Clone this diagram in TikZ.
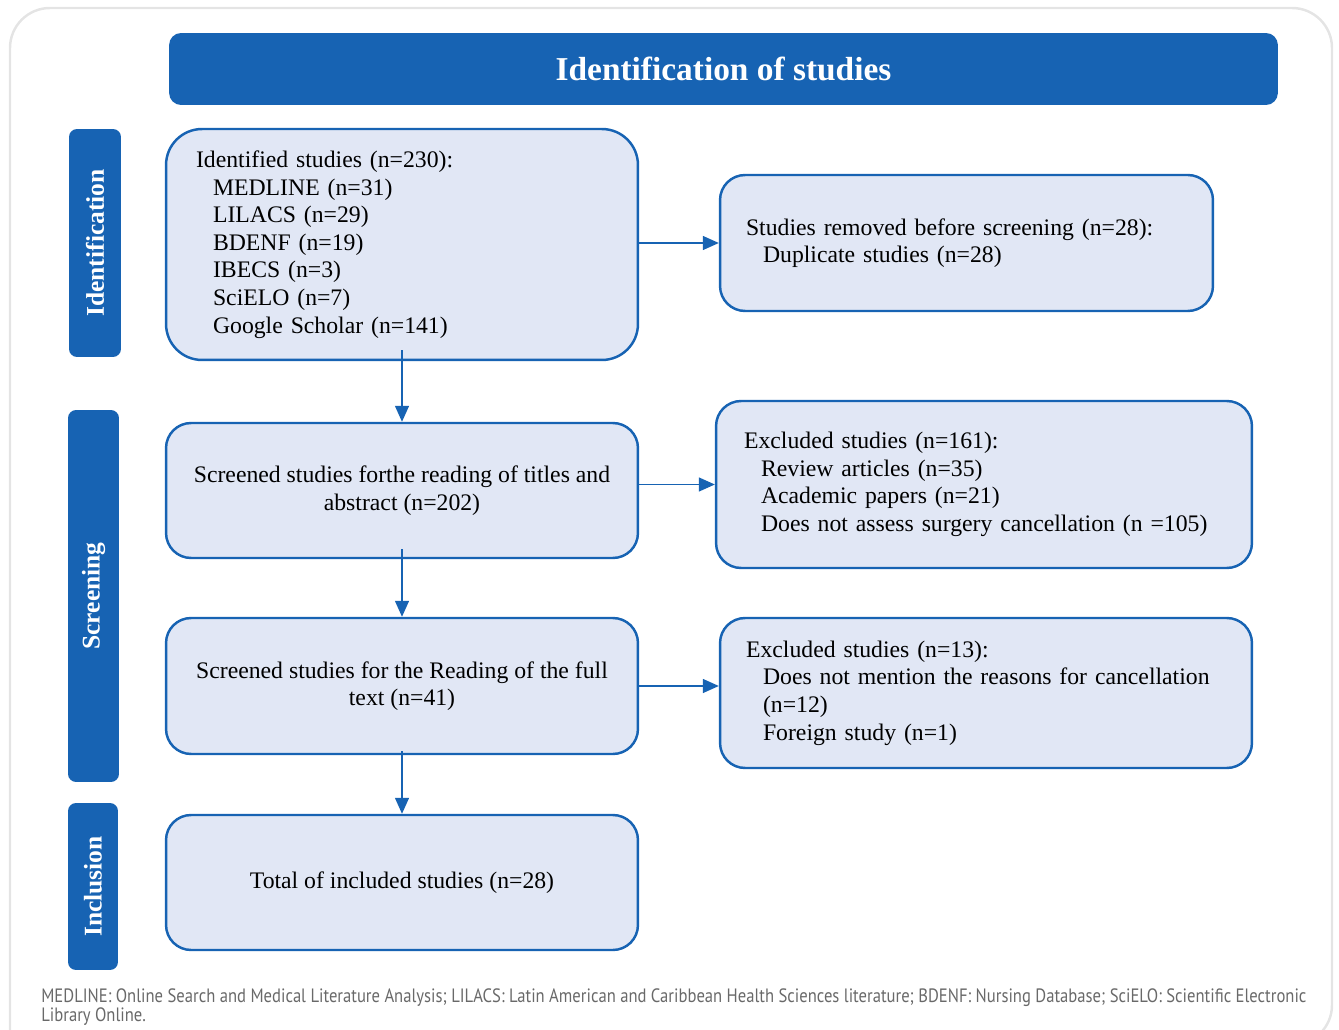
\documentclass[tikz,border=0pt]{standalone}
\usepackage{fontspec}
\setmainfont{Liberation Serif}
\newfontfamily\notefont[FakeStretch=0.86]{PT Sans}
\usetikzlibrary{arrows.meta}
\definecolor{prismablue}{RGB}{23,99,179}
\definecolor{boxfill}{RGB}{225,231,245}
\definecolor{framegray}{RGB}{228,228,228}
\definecolor{notegray}{RGB}{105,105,105}

\begin{document}
\begin{tikzpicture}[
		x=0.02cm, y=-0.02cm,
		stagebar/.style = {
			shape=rectangle, rounded corners=0.16cm,
			fill=prismablue, text=white,
			font=\fontsize{14.5}{16}\selectfont\bfseries},
		flowbox/.style = {
			shape=rectangle, rounded corners=0.5cm,
			draw=prismablue, line width=1.4pt, fill=boxfill,
			font=\fontsize{13.5}{15.7}\selectfont},
		flowarrow/.style = {
			draw=prismablue, line width=0.8pt,
			-{Triangle[length=0.32cm,width=0.28cm]}}]
		
		\clip (0,0) rectangle (1339,1030);
		\draw[framegray, line width=1.4pt, rounded corners=0.8cm]
			(10,1040) -- (10,8) -- (1332,8) -- (1332,1045) -- (1200,1045);
		
		\node[stagebar, rounded corners=0.24cm, minimum width=22.18cm, minimum height=1.44cm,
			font=\fontsize{19}{21}\selectfont\bfseries] (title) at (723.5,69) {Identification of studies};
		
		\node[stagebar, rotate=90, minimum width=4.56cm, minimum height=1.04cm] (stageid) at (95,243) {Identification};
		\node[stagebar, rotate=90, minimum width=7.44cm, minimum height=1.02cm] (stagescr) at (93.5,596) {Screening};
		\node[stagebar, rotate=90, minimum width=3.34cm, minimum height=1.0cm] (stageinc) at (93,886.5) {Inclusion};
		
		\node[flowbox, rounded corners=0.72cm, minimum width=9.44cm, minimum height=4.62cm,
			text width=8.24cm, align=left] (identified) at (402,244.5)
			{\rule{0pt}{0.2cm}Identified studies (n=230):\\
			\hspace*{0.34cm}MEDLINE (n=31)\\
			\hspace*{0.34cm}LILACS (n=29)\\
			\hspace*{0.34cm}BDENF (n=19)\\
			\hspace*{0.34cm}IBECS (n=3)\\
			\hspace*{0.34cm}SciELO (n=7)\\
			\hspace*{0.34cm}Google Scholar (n=141)};
		\node[flowbox, minimum width=9.86cm, minimum height=2.72cm,
			text width=8.82cm, align=left] (removed) at (966.5,243)
			{Studies removed before screening (n=28):\\
			\hspace*{0.34cm}Duplicate studies (n=28)};
		\node[flowbox, minimum width=9.44cm, minimum height=2.7cm, align=center] (titles) at (402,490.5)
			{Screened studies forthe reading of titles and\\abstract (n=202)};
		\node[flowbox, minimum width=10.72cm, minimum height=3.34cm,
			text width=9.6cm, align=left] (excluded) at (984,484.5)
			{Excluded studies (n=161):\\
			\hspace*{0.34cm}Review articles (n=35)\\
			\hspace*{0.34cm}Academic papers (n=21)\\
			\hspace*{0.34cm}Does not assess surgery cancellation (n =105)};
		\node[flowbox, minimum width=9.44cm, minimum height=2.72cm, align=center] (fulltext) at (402,686)
			{Screened studies for the Reading of the full\\text (n=41)};
		\node[flowbox, minimum width=10.64cm, minimum height=3.0cm,
			text width=9.6cm, align=left] (excludedfull) at (986,693)
			{Excluded studies (n=13):\\
			\hspace*{0.34cm}Does not mention the reasons for cancellation\\
			\hspace*{0.34cm}(n=12)\\
			\hspace*{0.34cm}Foreign study (n=1)};
		\node[flowbox, minimum width=9.44cm, minimum height=2.7cm, align=center] (included) at (402,882.5)
			{Total of included studies (n=28)};
		
		\draw[flowarrow] (identified.east |- removed.west) -- (removed.west);
		\draw[flowarrow] ([yshift=0.22cm]identified.south) -- (titles.north);
		\draw[flowarrow] (titles.east |- excluded.west) -- (excluded.west);
		\draw[flowarrow] ([yshift=0.2cm]titles.south) -- (fulltext.north);
		\draw[flowarrow] (fulltext.east) -- (fulltext.east -| excludedfull.west);
		\draw[flowarrow] ([yshift=0.08cm]fulltext.south) -- (included.north);
		
		\node[anchor=north west, align=left, inner sep=0pt, text=notegray,
			font=\notefont\fontsize{11}{10.8}\selectfont] (note) at (41,988)
			{MEDLINE: Online Search and Medical Literature Analysis; LILACS: Latin American and Caribbean Health Sciences literature; BDENF: Nursing Database; SciELO: Scientific Electronic\\
			Library Online.};
\end{tikzpicture}
\end{document}
